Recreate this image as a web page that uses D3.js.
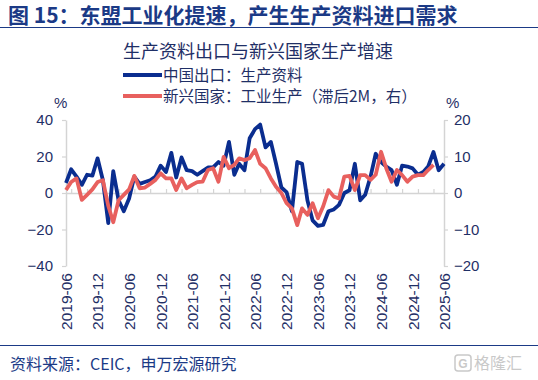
<!DOCTYPE html>
<html><head><meta charset="utf-8">
<script src="https://cdn.jsdelivr.net/npm/d3@7"></script>
<style>
body{margin:0;background:#fff;}
svg{display:block;}
</style></head>
<body><svg id="c" width="538" height="380"></svg>
<script>
const startMonth = "2019-06";
const chinaExports = [5.5,13,9,4.5,10,9.5,19,7,-16.5,12,-4,-10,-3,9,5,6,7,9,15,11.5,22,8.5,19.5,12.5,12,10,12,14,14,17,15,28,10,16,12.5,30,35,37.5,25,28,16,3,0.5,-10,17,16,-4,-15,-18,-17.5,-10,-9,-6.5,0,1.5,16,-4,-1,9,21.5,17,14.5,12.5,4.5,15,14.5,13.5,10,11.5,14.5,22.5,12.5,16];
const emIndustry = [0.8,3,4,-1.9,-0.5,1,3,3.5,-3.5,-8,-2,-0.5,1,4.7,1.3,1.5,2.5,3.6,5.4,4,4,0.8,4,1.3,2.2,3,3.1,6.3,6.8,3.1,9.9,6.8,7.7,9.5,9,9.5,11.8,8,6.8,4,1.7,0,-2.8,-4.2,-8.8,-4.2,-6,-2.8,-6.9,-3.7,0.8,-1,-1.5,4.5,4.7,0.8,4.9,4.9,3.6,5,11.3,6.8,3.1,6.3,4.9,3.1,4.5,4.9,4.9,6.3,7.7];
const leftTicks = [-40,-20,0,20,40];
const rightTicks = [-20,-10,0,10,20];
const xLabels = ["2019-06","2019-12","2020-06","2020-12","2021-06","2021-12","2022-06","2022-12","2023-06","2023-12","2024-06","2024-12","2025-06"];
const titleText = "图 15：东盟工业化提速，产生生产资料进口需求";
const chartTitle = "生产资料出口与新兴国家生产增速";
const seriesNames = ["中国出口：生产资料","新兴国家：工业生产（滞后2M，右）"];
const sourceText = "资料来源：CEIC，申万宏源研究";

const parse = d3.timeParse("%Y-%m");
const t0 = parse(startMonth);
const dates = n => d3.range(n).map(i => d3.timeMonth.offset(t0, i));
const blue = "#0a2d8f", red = "#e8605e", navy = "#1b3a86", txt = "#1f2f66", grid = "#d4d4d4";
const cjk = "'Noto Sans CJK SC','Noto Sans',sans-serif";
const lat = "'Liberation Sans',Arial,sans-serif";

const svg = d3.select("#c");
const x = d3.scaleTime().domain([t0, parse("2025-06")]).range([66, 444]);
const yL = d3.scaleLinear().domain([-40, 40]).range([266, 120]);
const yR = d3.scaleLinear().domain([-20, 20]).range([266, 120]);

// header
svg.append("text").attr("x", 8).attr("y", 23).attr("font-family", cjk).attr("font-weight", "bold")
  .attr("font-size", 21).attr("fill", navy).text(titleText);
svg.append("line").attr("x1", 0).attr("x2", 538).attr("y1", 27.5).attr("y2", 27.5).attr("stroke", navy).attr("stroke-width", 1.2);
svg.append("line").attr("x1", 0).attr("x2", 538).attr("y1", 345.5).attr("y2", 345.5).attr("stroke", navy).attr("stroke-width", 1.2);
svg.append("text").attr("x", 10).attr("y", 370).attr("font-family", cjk).attr("font-size", 16)
  .attr("fill", navy).text(sourceText);
// watermark
const wm = svg.append("g").attr("opacity", 0.45);
wm.append("rect").attr("x", 455).attr("y", 355).attr("width", 16).attr("height", 16).attr("rx", 3).attr("fill", "none").attr("stroke", "#888").attr("stroke-width", 1.5);
wm.append("text").attr("x", 463).attr("y", 368).attr("text-anchor", "middle").attr("font-family", lat).attr("font-weight", "bold").attr("font-size", 12).attr("fill", "#888").text("G");
wm.append("text").attr("x", 474).attr("y", 369).attr("font-family", cjk).attr("font-size", 16).attr("fill", "#888").text("格隆汇");

// chart title and legend
svg.append("text").attr("x", 258).attr("y", 58).attr("text-anchor", "middle").attr("font-family", cjk)
  .attr("font-size", 18).attr("fill", txt).text(chartTitle);
const leg = [{c: blue, y: 76}, {c: red, y: 97}];
leg.forEach((l, i) => {
  svg.append("line").attr("x1", 123).attr("x2", 162).attr("y1", l.y - 1).attr("y2", l.y - 1).attr("stroke", l.c).attr("stroke-width", 3.8);
  svg.append("text").attr("x", 163).attr("y", l.y + 5).attr("font-family", cjk).attr("font-size", 15.5).attr("fill", txt).text(seriesNames[i]);
});
svg.append("text").attr("x", 54).attr("y", 108).attr("font-family", lat).attr("font-size", 15).attr("fill", txt).text("%");
svg.append("text").attr("x", 446).attr("y", 108).attr("font-family", lat).attr("font-size", 15).attr("fill", txt).text("%");

// axes
function styleAxis(g) {
  g.selectAll(".domain").attr("stroke", grid).attr("stroke-width", 1.5);
  g.selectAll(".tick line").attr("stroke", grid).attr("stroke-width", 1.2);
  g.selectAll("text").attr("font-family", lat).attr("font-size", 15).attr("fill", txt);
}
svg.append("g").attr("transform", "translate(66,0)")
  .call(d3.axisLeft(yL).tickValues(leftTicks).tickSize(4).tickPadding(9).tickSizeOuter(0)).call(styleAxis);
svg.append("g").attr("transform", "translate(444,0)")
  .call(d3.axisRight(yR).tickValues(rightTicks).tickSize(4).tickPadding(6).tickSizeOuter(0)).call(styleAxis);
// zero line with quarterly ticks
const zg = svg.append("g").attr("transform", `translate(0,${yL(0)})`)
  .call(d3.axisBottom(x).ticks(d3.timeMonth.every(3)).tickSize(-4).tickFormat("").tickSizeOuter(0));
styleAxis(zg);
// date labels
const lg = svg.append("g").attr("transform", "translate(0,269)")
  .call(d3.axisBottom(x).tickValues(xLabels.map(parse)).tickFormat(d3.timeFormat("%Y-%m")).tickSize(0));
lg.select(".domain").remove();
lg.selectAll("text").attr("font-family", lat).attr("font-size", 15.5).attr("fill", txt)
  .attr("transform", "rotate(-90)").attr("text-anchor", "end").attr("x", -4).attr("y", 0).attr("dy", "0.35em");

// lines
const lineL = d3.line().x(d => x(d[0])).y(d => yL(d[1]));
const lineR = d3.line().x(d => x(d[0])).y(d => yR(d[1]));
const dB = dates(chinaExports.length).map((t, i) => [t, chinaExports[i]]);
const dR = dates(emIndustry.length).map((t, i) => [t, emIndustry[i]]);
svg.append("path").datum(dB).attr("d", lineL).attr("fill", "none").attr("stroke", blue).attr("stroke-width", 3.8).attr("stroke-linejoin", "round");
svg.append("path").datum(dR).attr("d", lineR).attr("fill", "none").attr("stroke", red).attr("stroke-width", 3.8).attr("stroke-linejoin", "round");
</script></body></html>
